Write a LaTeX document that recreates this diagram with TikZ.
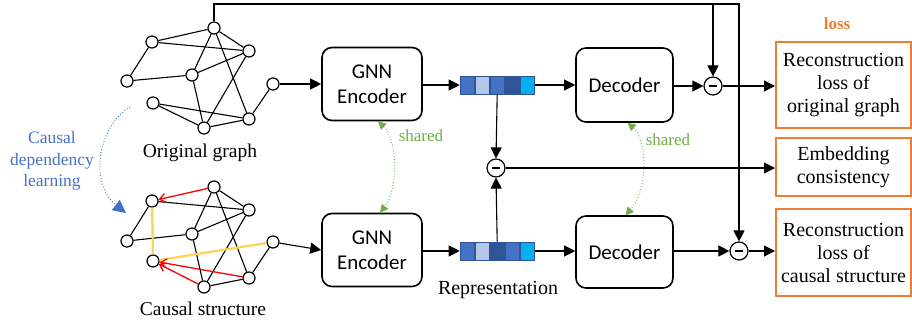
\documentclass[tikz,border=0pt]{standalone}
\usepackage{fontspec}
\setmainfont{Liberation Serif}
\newfontfamily\calibri{Carlito}
\usetikzlibrary{arrows.meta}
\usetikzlibrary{positioning}
\usepackage{xcolor}
\definecolor{lossorange}{HTML}{ED7D31}
\definecolor{causalblue}{HTML}{4472C4}
\definecolor{sharedgreen}{HTML}{70AD47}
\definecolor{celllight}{HTML}{B4C7E7}
\definecolor{celldark}{HTML}{2F5597}
\definecolor{cellcyan}{HTML}{00B0F0}
\definecolor{edgeyellow}{HTML}{FFD44F}

\begin{document}
\begin{tikzpicture}[x=1pt, y=-1pt]
        % ================= styles =================
        \tikzset{
            % graph vertex: white circle, black border
            vnode/.style={circle, draw=black, line width=1.2pt, fill=white, minimum size=12pt, inner sep=0pt},
            % plain black graph edge
            edge/.style={line width=1.1pt, black},
            % learned causal direction
            red_arrow/.style={line width=1.3pt, red, -{Straight Barb[length=6pt,width=9pt]}},
            % newly added dependency
            yellow_edge/.style={line width=2.2pt, edgeyellow},
            % encoder / decoder block
            block/.style={draw=black, line width=1.6pt, rounded corners=10pt, fill=white, align=center, inner sep=0pt, font=\calibri\fontsize{21}{25}\selectfont},
            % one cell of the embedding vector
            cell/.style={draw=celldark, line width=0.6pt, minimum width=14.4pt, minimum height=18pt, inner sep=0pt},
            % difference operator
            minus/.style={circle, draw=black, line width=1.2pt, fill=white, minimum size=18pt, inner sep=0pt},
            % loss boxes on the right
            lossbox/.style={draw=lossorange, line width=2pt, fill=white, align=center, inner sep=0pt, font=\fontsize{20}{23}\selectfont},
            % data flow arrow
            flow/.style={line width=1.1pt, black, -{Triangle[length=11pt,width=11pt]}},
            % parameter sharing
            shared/.style={sharedgreen, dotted, line width=0.9pt, {Triangle[length=8pt,width=8pt]}-{Triangle[length=8pt,width=8pt]}},
            caption_text/.style={font=\fontsize{19.5}{23}\selectfont}
        }
        \useasboundingbox (0,0) rectangle (912,329);

        % ================= original graph =================
        \node[vnode] (o1) at (214,28) {};
        \node[vnode] (o2) at (152,42) {};
        \node[vnode] (o3) at (249,51) {};
        \node[vnode] (o4) at (127,81) {};
        \node[vnode] (o5) at (192,75) {};
        \node[vnode] (o6) at (273,84) {};
        \node[vnode] (o7) at (153,103) {};
        \node[vnode] (o8) at (249,119) {};
        \node[vnode] (o9) at (204,128) {};

        \draw[edge] (o2) -- (o1);
        \draw[edge] (o2) -- (o3);
        \draw[edge] (o2) -- (o4);
        \draw[edge] (o4) -- (o5);
        \draw[edge] (o5) -- (o1);
        \draw[edge] (o5) -- (o3);
        \draw[edge] (o5) -- (o9);
        \draw[edge] (o1) -- (o3);
        \draw[edge] (o1) -- (o8);
        \draw[edge] (o3) -- (o9);
        \draw[edge] (o7) -- (o8);
        \draw[edge] (o7) -- (o9);
        \draw[edge] (o9) -- (o8);
        \draw[edge] (o8) -- (o6);

        \node[caption_text] (otext) at (200,153) {Original graph};

        % ================= causal structure =================
        \node[vnode] (c1) at (214,187) {};
        \node[vnode] (c2) at (152,201) {};
        \node[vnode] (c3) at (249,210) {};
        \node[vnode] (c4) at (127,241) {};
        \node[vnode] (c5) at (192,234) {};
        \node[vnode] (c6) at (273,242) {};
        \node[vnode] (c7) at (153,261) {};
        \node[vnode] (c8) at (249,278) {};
        \node[vnode] (c9) at (204,287) {};

        \draw[edge] (c2) -- (c3);
        \draw[edge] (c2) -- (c4);
        \draw[edge] (c4) -- (c5);
        \draw[edge] (c5) -- (c1);
        \draw[edge] (c5) -- (c3);
        \draw[edge] (c5) -- (c9);
        \draw[edge] (c1) -- (c3);
        \draw[edge] (c1) -- (c8);
        \draw[edge] (c3) -- (c9);
        \draw[edge] (c9) -- (c8);
        \draw[edge] (c8) -- (c6);
        \draw[yellow_edge] (c2) -- (c7);
        \draw[yellow_edge] (c7) -- (c6);
        \draw[red_arrow] (c1) -- (c2);
        \draw[red_arrow] (c8) -- (c7);
        \draw[red_arrow] (c9) -- (c7);

        \node[caption_text] (ctext) at (203,309) {Causal structure};

        % causal dependency learning
        \coordinate (cl_start) at (130,107);
        \coordinate (cl_end) at (126,213);
        \draw[causalblue, dotted, line width=0.9pt, -{Triangle[length=13pt,width=13pt]}]
            (cl_start) .. controls (96,128) and (90,185) .. (cl_end);
        \node[causalblue, align=center, font=\fontsize{17.5}{21.5}\selectfont] (cdl) at (52,161) {Causal\\dependency\\learning};

        % ================= encoders =================
        \node[block, minimum width=100pt, minimum height=73pt] (enc1) at (372,84) {GNN\\Encoder};
        \node[block, minimum width=100pt, minimum height=73pt] (enc2) at (372,250) {GNN\\Encoder};

        \draw[flow] (o6) -- (o6 -| enc1.west);
        \draw[flow] (c6) -- (enc2.west);

        \draw[shared] ([xshift=6pt]enc1.south) .. controls (398,140) and (398,190) .. ([xshift=8pt]enc2.north);
        \node[sharedgreen, font=\fontsize{17}{20}\selectfont] (sh1) at (421,136) {shared};

        % ================= representations =================
        \node[cell, fill=causalblue] (rt1) at (467.2,85) {};
        \node[cell, fill=celllight, right=0pt of rt1] (rt2) {};
        \node[cell, fill=causalblue, right=0pt of rt2] (rt3) {};
        \node[cell, fill=celldark, right=0pt of rt3] (rt4) {};
        \node[cell, fill=cellcyan, right=0pt of rt4] (rt5) {};

        \node[cell, fill=causalblue] (rb1) at (467.2,251) {};
        \node[cell, fill=celllight, right=0pt of rb1] (rb2) {};
        \node[cell, fill=celldark, right=0pt of rb2] (rb3) {};
        \node[cell, fill=causalblue, right=0pt of rb3] (rb4) {};
        \node[cell, fill=cellcyan, right=0pt of rb4] (rb5) {};

        \node[caption_text, font=\fontsize{20}{23}\selectfont] (rtext) at (498,290) {Representation};

        \draw[flow] (enc1.east |- rt1) -- (rt1.west);
        \draw[flow] (enc2.east |- rb1) -- (rb1.west);

        % embedding difference
        \node[minus] (m2) at (496,168) {\rule{8pt}{1.4pt}};
        \draw[flow] (rt3.south) -- (m2.north);
        \draw[flow] (rb3.north) -- (m2.south);

        % ================= decoders =================
        \node[block, minimum width=97pt, minimum height=74pt] (dec1) at (624.5,85) {Decoder};
        \node[block, minimum width=97pt, minimum height=72pt] (dec2) at (624.5,252) {Decoder};

        \draw[flow] (rt5.east) -- (rt5 -| dec1.west);
        \draw[flow] (rb5.east) -- (rb5 -| dec2.west);

        \draw[shared] ([xshift=3pt]dec1.south) .. controls (648,140) and (648,190) .. ([xshift=1pt]dec2.north);
        \node[sharedgreen, font=\fontsize{17}{20}\selectfont] (sh2) at (668,140) {shared};

        % ================= losses =================
        \node[minus] (m1) at (713,86) {\rule{8pt}{1.4pt}};
        \node[minus] (m3) at (739,251) {\rule{8pt}{1.4pt}};

        \node[lossbox, minimum width=135pt, minimum height=86pt] (box1) at (843.5,85) {Reconstruction\\loss of\\original graph};
        \node[lossbox, minimum width=135pt, minimum height=58pt] (box2) at (843.5,167) {Embedding\\consistency};
        \node[lossbox, minimum width=135pt, minimum height=87pt] (box3) at (843.5,252.5) {Reconstruction\\loss of\\causal structure};
        \node[lossorange, font=\bfseries\fontsize{17}{20}\selectfont] (losstext) at (837,24) {loss};

        \draw[flow] (dec1.east |- m1) -- (m1.west);
        \draw[flow] (dec2.east |- m3) -- (m3.west);
        \draw[flow] (m1.east) -- (m1 -| box1.west);
        \draw[flow] (m2.east) -- (m2 -| box2.west);
        \draw[flow] (m3.east) -- (m3 -| box3.west);

        % original graph fed to both reconstruction terms
        \coordinate (top_left) at (214,4);
        \coordinate (top_right) at (739,4);
        \draw[flow] (o1.north) -- (top_left) -- (top_right) -- (m3.north);
        \draw[flow] (m1 |- top_left) -- (m1.north);

\end{tikzpicture}
\end{document}
